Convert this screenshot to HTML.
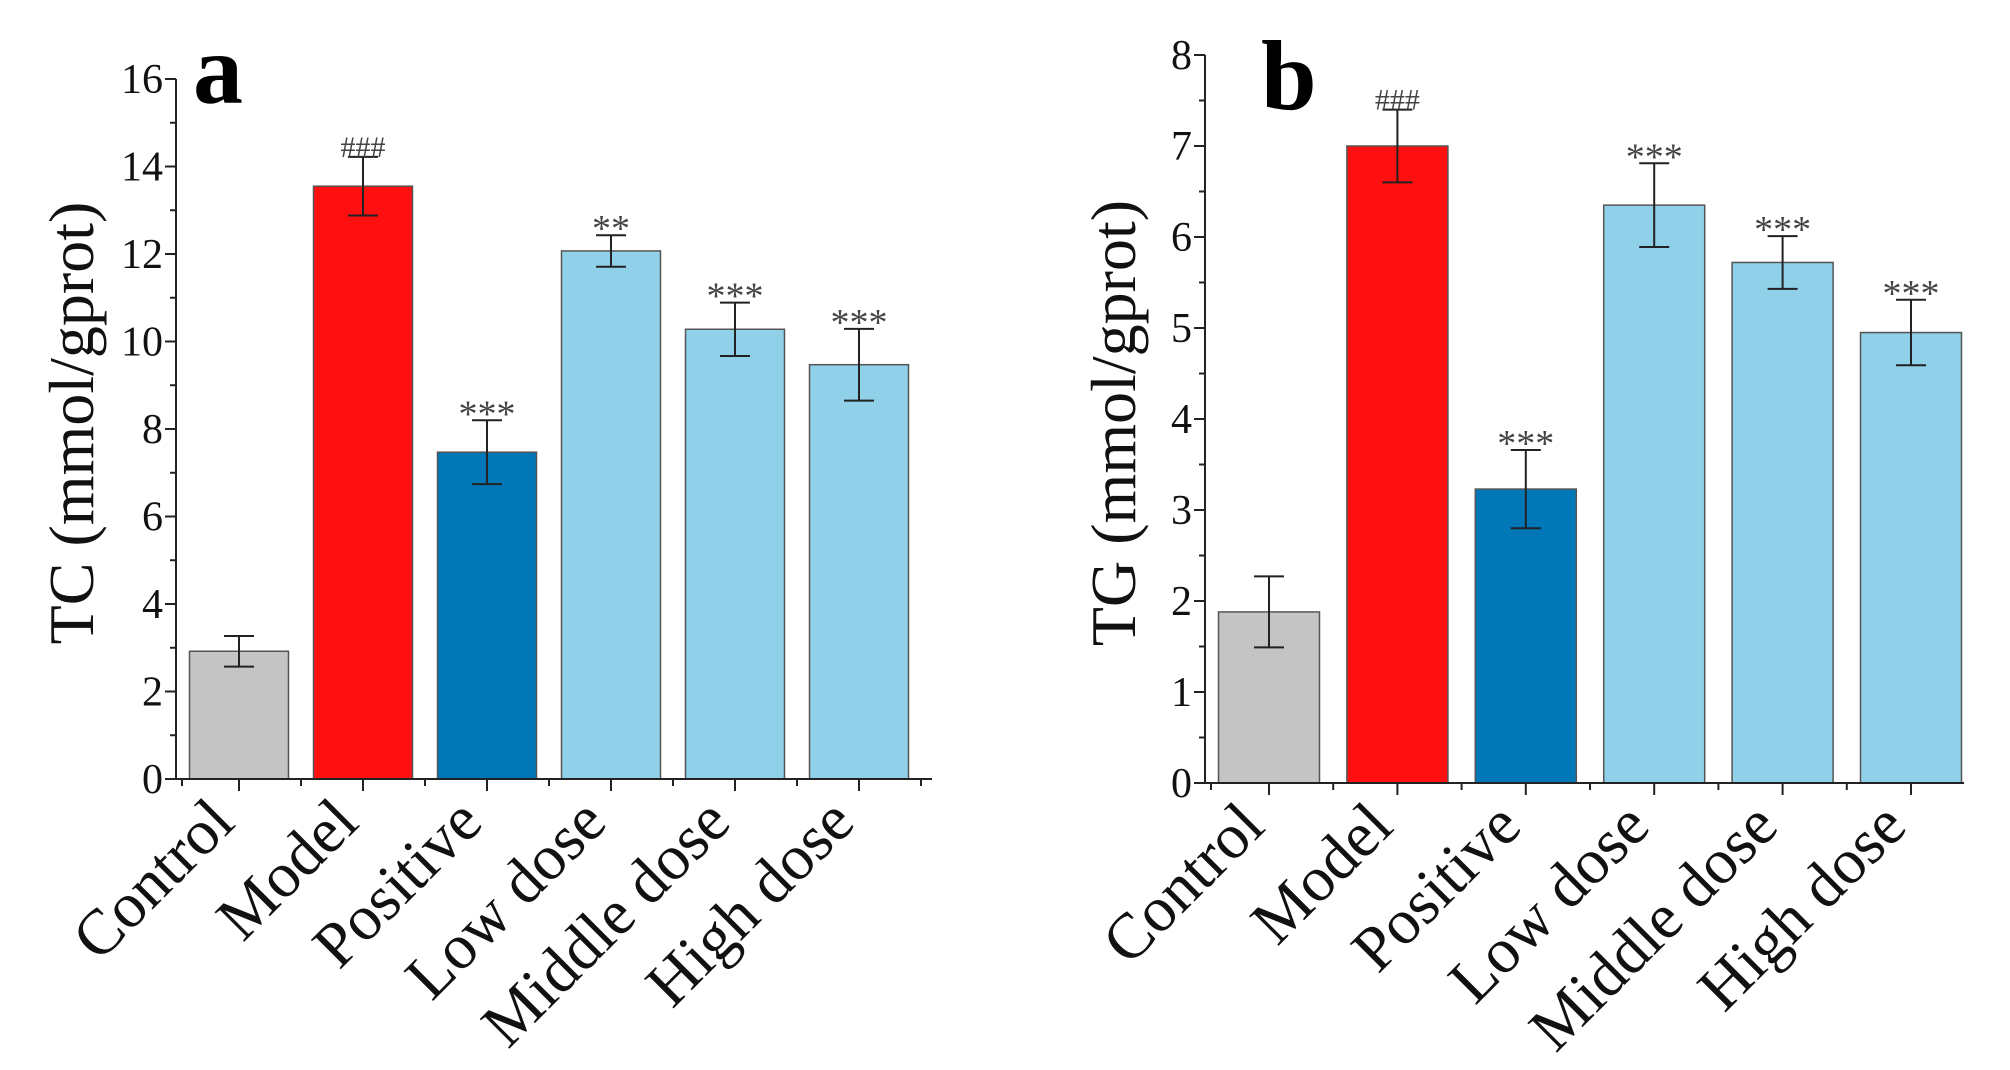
<!DOCTYPE html>
<html><head><meta charset="utf-8"><style>
body{margin:0;background:#fff;}
svg{display:block;font-family:"Liberation Serif",serif;}
</style></head><body>
<svg id="chart" width="2010" height="1070" viewBox="0 0 2010 1070"></svg>
<script>
const categories = ["Control","Model","Positive","Low dose","Middle dose","High dose"];
const tcValues = [2.92,13.55,7.47,12.07,10.28,9.47];
const tcErrors = [0.35,0.67,0.73,0.36,0.61,0.82];
const tcMarks = ["","###","***","**","***","***"];
const tgValues = [1.88,7.0,3.23,6.35,5.72,4.95];
const tgErrors = [0.39,0.4,0.43,0.46,0.29,0.36];
const tgMarks = ["","###","***","***","***","***"];
const tcTicks = [0,2,4,6,8,10,12,14,16];
const tgTicks = [0,1,2,3,4,5,6,7,8];
const colors = ["#c4c4c4","#fe1010","#0077b6","#90d0e9","#90d0e9","#90d0e9"];

const svg = document.getElementById('chart');
const NS = 'http://www.w3.org/2000/svg';
function mk(tag, attrs, parent){const e=document.createElementNS(NS,tag);for(const k in attrs)e.setAttribute(k,attrs[k]);(parent||svg).appendChild(e);return e;}

function panel(p){
  const g = mk('g',{});
  
  
  const y = v => p.y0 - (v - p.ticks[0]) / (p.ticks[p.ticks.length-1]-p.ticks[0]) * (p.y0 - p.yTop);
  const x = i => p.x0 + p.first + i*p.step;
  p.values.forEach((v,i)=>{
    const r = mk('rect',{x:x(i)-p.bw/2,y:y(v),width:p.bw,height:p.y0-y(v),fill:colors[i],stroke:'#555','stroke-width':1.5},g);
    
    
    const e=p.errors[i], cx=x(i);
    const eb = mk('path',{d:`M${cx},${y(v+e)}V${y(v-e)}M${cx-15},${y(v+e)}H${cx+15}M${cx-15},${y(v-e)}H${cx+15}`,stroke:'#222','stroke-width':2,fill:'none'},g);
    
    
    if(p.marks[i]){
      const isHash=p.marks[i].startsWith('#');
      const t = mk('text',{x:cx,y:y(v+e)+(isHash?0:6),'text-anchor':'middle','font-size':isHash?30:38,fill:'#444'},g);
      t.textContent=p.marks[i];
      
      
    }
  });
  mk('path',{d:`M${p.x0},${p.yTop}V${p.y0}H${p.xEnd}`,stroke:'#222','stroke-width':2,fill:'none'},g);
  for(let k=0;k<p.ticks.length;k++){
    const v=p.ticks[k], yy=y(v);
    mk('line',{x1:p.x0-11,x2:p.x0,y1:yy,y2:yy,stroke:'#222','stroke-width':2},g);
    if(k<p.ticks.length-1){const ym=(yy+y(p.ticks[k+1]))/2;mk('line',{x1:p.x0-6,x2:p.x0,y1:ym,y2:ym,stroke:'#222','stroke-width':2},g);}
    const t=mk('text',{x:p.x0-13,y:yy+14,'text-anchor':'end','font-size':42,fill:'#111'},g);
    t.textContent=v;
    
    
  }
  categories.forEach((c,i)=>{
    const cx=x(i);
    mk('line',{x1:cx,x2:cx,y1:p.y0,y2:p.y0+12,stroke:'#222','stroke-width':2},g);
    const mx=cx+p.step/2;
    if(mx<p.xEnd) mk('line',{x1:mx,x2:mx,y1:p.y0,y2:p.y0+7,stroke:'#222','stroke-width':2},g);
    const ax=cx-2, ay=p.y0+46;
    const t=mk('text',{x:ax,y:ay,'text-anchor':'end','font-size':64,fill:'#111',transform:`rotate(-45 ${ax} ${ay})`},g);
    t.textContent=c;
    
    
  });
  mk('line',{x1:p.x0+6,x2:p.x0+6,y1:p.y0,y2:p.y0+7,stroke:'#222','stroke-width':2},g);
  const tt=mk('text',{x:p.titleX,y:p.titleY,'text-anchor':'middle','font-size':64,fill:'#111',transform:`rotate(-90 ${p.titleX} ${p.titleY})`},g);
  tt.textContent=p.title;
  
  
  const lt=mk('text',{x:p.lx,y:p.ly,'font-size':100,'font-weight':'bold',fill:'#000'},g);
  lt.textContent=p.letter;
  
  
}
panel({id:'panel-a-tc',values:tcValues,errors:tcErrors,marks:tcMarks,ticks:tcTicks,x0:176,y0:779,yTop:79,xEnd:932,first:63,step:124,bw:99,title:'TC (mmol/gprot)',titleX:93,titleY:423,letter:'a',lx:193,ly:103});
panel({id:'panel-b-tg',values:tgValues,errors:tgErrors,marks:tgMarks,ticks:tgTicks,x0:1205,y0:783,yTop:55,xEnd:1964,first:64,step:128.4,bw:101,title:'TG (mmol/gprot)',titleX:1135,titleY:423,letter:'b',lx:1261,ly:109});
</script>
</body></html>
